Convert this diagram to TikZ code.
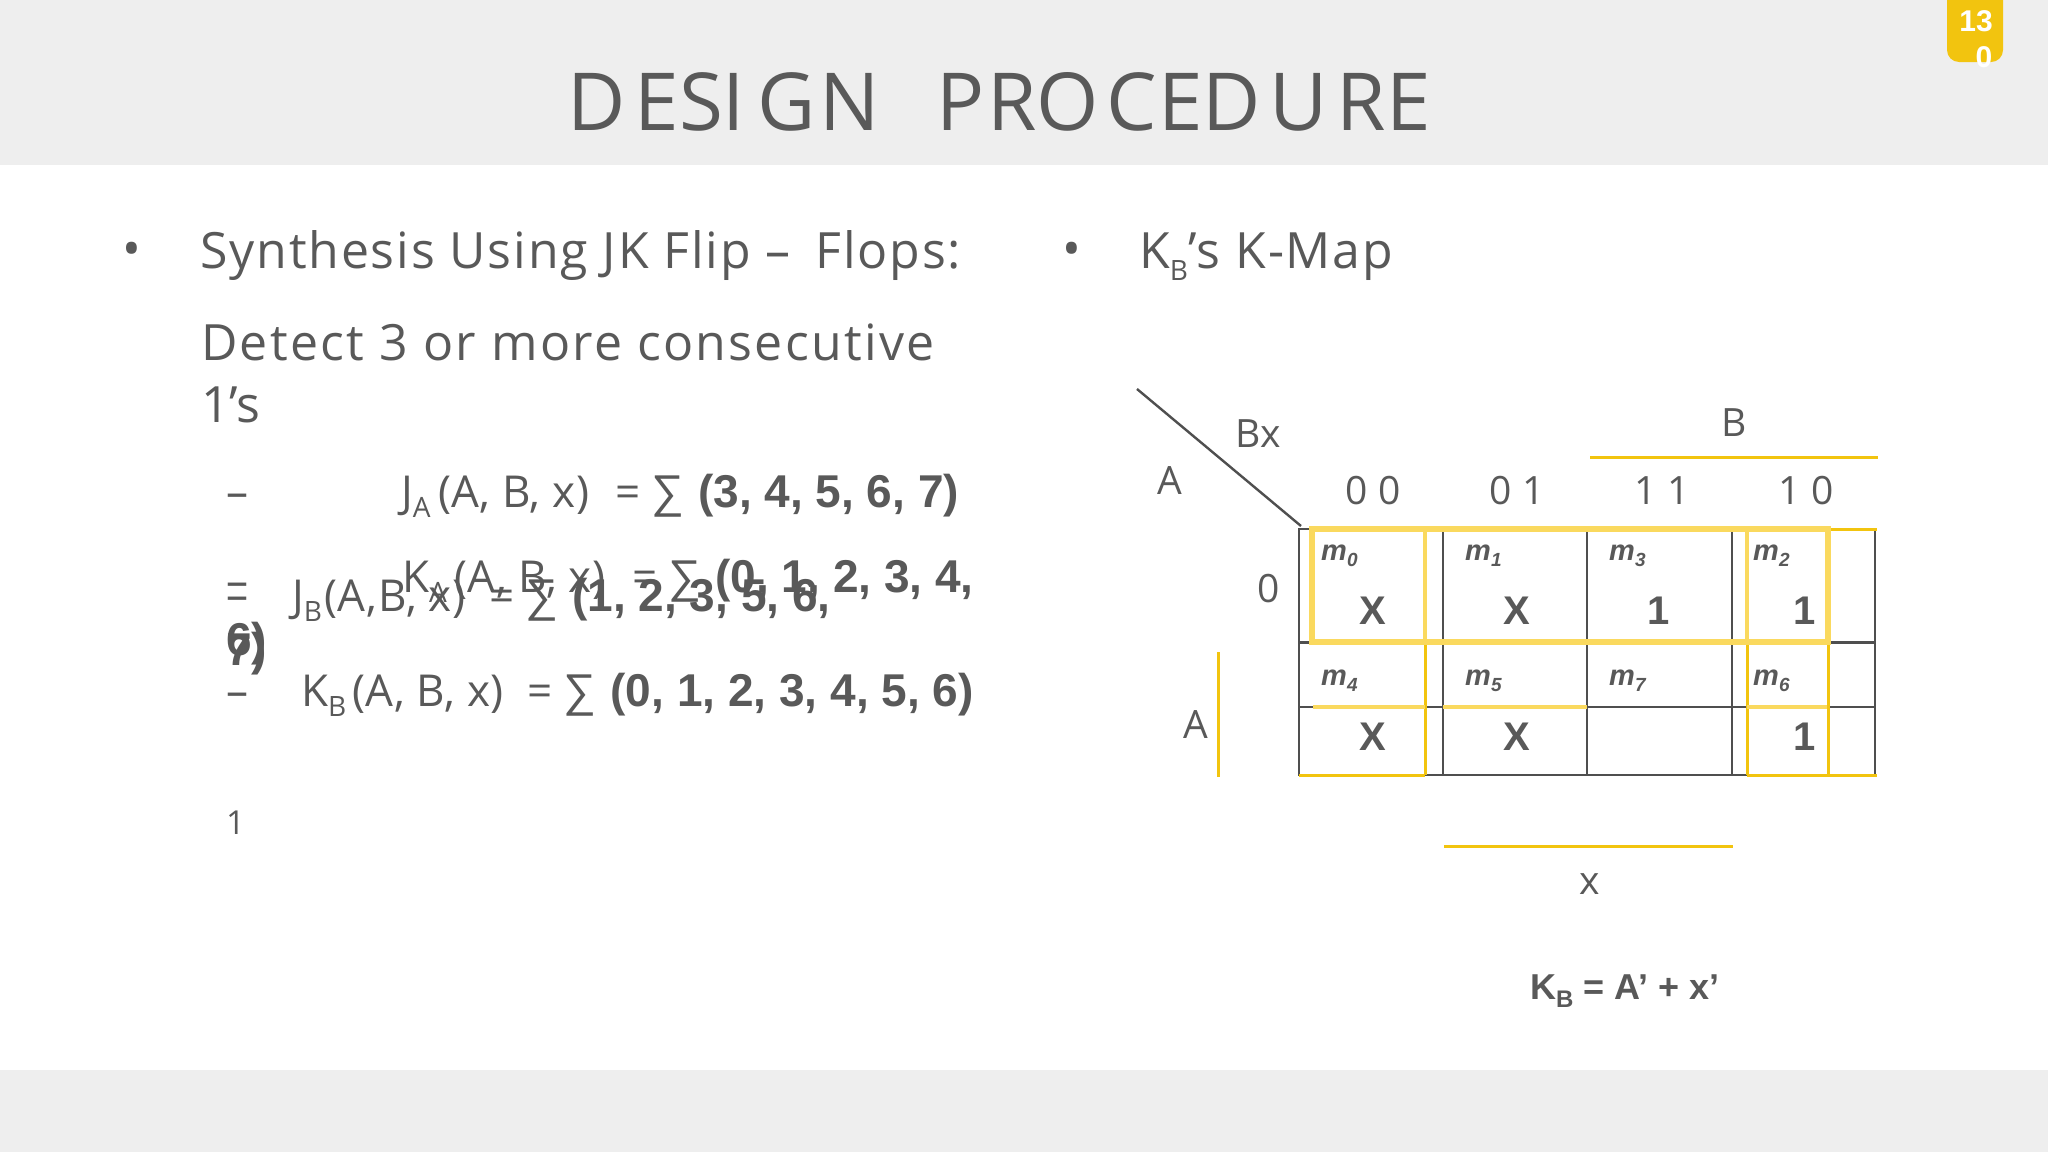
\documentclass[tikz,border=0pt]{standalone}
\usepackage{fontspec}
\setmainfont{Open Sans}
\newfontfamily\arl{Liberation Sans}
\newfontfamily\spcf{Open Sans}[LetterSpace=4.5]
\newfontfamily\spcs{Open Sans}[LetterSpace=3.65]
\newfontfamily\spce{Open Sans}[LetterSpace=1.2]
\definecolor{ink}{HTML}{595959}
\definecolor{band}{HTML}{EEEEEE}
\definecolor{ydark}{HTML}{F2C40F}
\definecolor{ylight}{HTML}{FAD95E}
\definecolor{gridc}{HTML}{4F4F4F}
\newcommand{\myfs}[1]{\fontsize{#1}{#1}\selectfont}
\newcommand{\lowsub}[1]{\raisebox{-.24em}{\myfs{28}#1}}
\newcommand{\mybd}[1]{{\arl\bfseries\myfs{46}#1}}
\newcommand{\mysum}{{\arl\myfs{46}∑}}
\newcommand{\eqsum}{\kern 24pt=\kern 11pt\mysum\kern 14pt}
\newcommand{\tlet}[2]{\makebox[#1pt][l]{#2}}
\tikzset{
 txt/.style={anchor=base west,inner sep=0pt,text=ink,font=\myfs{50}},
 eq/.style={txt,font=\spce\myfs{44}},
 lab/.style={anchor=center,inner sep=0pt,text=ink,font=\myfs{39}},
 mini/.style={anchor=base west,inner sep=0pt,text=ink,font=\arl\bfseries\itshape\myfs{29}},
 val/.style={anchor=center,inner sep=0pt,text=ink,font=\arl\bfseries\myfs{40}},
 gl/.style={draw=gridc,line width=2.4pt},
 yt/.style={draw=ydark,line width=3pt},
 yw/.style={draw=ylight,line width=5.5pt},
}
\begin{document}
\begin{tikzpicture}[x=1pt,y=-1pt]
\useasboundingbox (0,0) rectangle (2048,1152);
\fill[white] (0,0) rectangle (2048,1152);
\fill[band] (0,0) rectangle (2048,165);
\fill[band] (0,1070) rectangle (2048,1152);
\fill[ydark] (1947,0) -- (2003,0) -- (2003,50) arc (0:90:12) -- (1959,62) arc (90:180:12) -- cycle;
\node[anchor=center,inner sep=0pt,text=white,font=\arl\bfseries\myfs{30}] (pga) at (1976,21) {13};
\node[anchor=center,inner sep=0pt,text=white,font=\arl\bfseries\myfs{30}] (pgb) at (1984,57) {0};
\node[txt,font=\myfs{80}] (title) at (567,130) {\tlet{67}{D}\tlet{45}{E}\tlet{43}{S}\tlet{35}{I}\tlet{62}{G}\tlet{117}{N}\tlet{51}{P}\tlet{49}{R}\tlet{70}{O}\tlet{52}{C}\tlet{44}{E}\tlet{67}{D}\tlet{67}{U}\tlet{50}{R}E};

\node[txt] (b1) at (122,266) {•};
\node[txt,font=\spcs\myfs{50}] (syn) at (200,268) {Synthesis Using JK Flip –\kern 25pt Flops:};
\node[txt,font=\spcf\myfs{50}] (det) at (201,360) {Detect 3 or more consecutive};
\node[txt] (ones) at (201,422) {1’s};

\node[eq] (d1) at (226,507) {–};
\node[eq] (ja) at (401,507) {J\lowsub{A}\,(A, B, x)\kern 2pt\eqsum\mybd{(3, 4, 5, 6, 7)}};
\node[eq] (d2) at (226,596) {–};
\node[eq] (ka) at (402,592) {K\lowsub{A}\,(A, B, x)\kern 3pt\eqsum\mybd{(0, 1, 2, 3, 4,}};
\node[eq] (d3) at (226,610) {–};
\node[eq] (jb) at (292,611) {J\lowsub{B}\kern 2pt(A,\kern 2pt B, x)\eqsum\mybd{(1, 2, 3, 5, 6,}};
\node[eq] (w1) at (226,655) {\mybd{6)}};
\node[eq] (w2) at (226,665) {\mybd{7)}};
\node[eq] (d4) at (226,706) {–};
\node[eq] (kb) at (301,706) {K\lowsub{B}\kern 6pt(A, B, x)\eqsum\mybd{(0, 1, 2, 3, 4, 5, 6)}};
\node[txt,font=\myfs{33}] (one) at (226,834) {1};

\node[txt] (b2) at (1062,266) {•};
\node[txt,font=\spcs\myfs{50}] (kmt) at (1139,268) {K\lowsub{B}’s K-Map};

% K-map grid
\draw[gl] (1299,529) rectangle (1875,775);
\foreach \x in {1443,1587,1732} \draw[gl] (\x,529) -- (\x,775);
\draw[gl] (1299,642.5) -- (1875,642.5);
\draw[gl] (1299,707) -- (1875,707);
\coordinate (dgA) at (1137,389);
\coordinate (dgB) at (1301,526);
\draw[draw=gridc,line width=2.4pt] (dgA) -- (dgB);

% yellow marks
\draw[yt] (1299,775) -- (1425,775);
\draw[yt] (1747,775) -- (1877,775);
\draw[yt] (1829,529) -- (1877,529);
\draw[yt] (1425,642) -- (1425,775);
\draw[yt] (1747,642) -- (1747,775);
\draw[yt] (1828,642) -- (1828,775);
\draw[yw] (1312,529) -- (1828,529) -- (1828,642) -- (1312,642) -- cycle;
\draw[draw=ylight,line width=4pt] (1425,529) -- (1425,642);
\draw[draw=ylight,line width=4pt] (1747,529) -- (1747,642);
\draw[yw,line width=4.5pt] (1313,707) -- (1425,707);
\draw[yw,line width=4.5pt] (1443,707) -- (1587,707);
\draw[yw,line width=4.5pt] (1747,707) -- (1827,707);
\draw[yt] (1590,457) -- (1878,457);
\draw[yt] (1218,652) -- (1218,777);
\draw[yt] (1444,846) -- (1733,846);

% K-map labels
\node[lab] (lbx) at (1258,434) {Bx};
\node[lab] (la) at (1170,481) {A};
\node[lab] (lb) at (1734,423) {B};
\node[lab] (c00) at (1373,491) {0 0};
\node[lab] (c01) at (1517,491) {0 1};
\node[lab] (c11) at (1662,491) {1 1};
\node[lab] (c10) at (1806,491) {1 0};
\node[lab] (r0) at (1269,589) {0};
\node[lab] (ra) at (1196,725) {A};
\node[lab] (lx) at (1590,884) {x};

\node[mini] (m0) at (1321,560) {m\lowsub{\myfs{19}0}};
\node[mini] (m1) at (1465,560) {m\lowsub{\myfs{19}1}};
\node[mini] (m3) at (1609,560) {m\lowsub{\myfs{19}3}};
\node[mini] (m2) at (1753,560) {m\lowsub{\myfs{19}2}};
\node[mini] (m4) at (1321,685) {m\lowsub{\myfs{19}4}};
\node[mini] (m5) at (1465,685) {m\lowsub{\myfs{19}5}};
\node[mini] (m7) at (1609,685) {m\lowsub{\myfs{19}7}};
\node[mini] (m6) at (1753,685) {m\lowsub{\myfs{19}6}};
\node[val] (v0) at (1373,611) {X};
\node[val] (v1) at (1517,611) {X};
\node[val] (v3) at (1659,611) {1};
\node[val] (v2) at (1805,611) {1};
\node[val] (v4) at (1373,737) {X};
\node[val] (v5) at (1517,737) {X};
\node[val] (v6) at (1805,737) {1};

\node[anchor=base west,inner sep=0pt,text=ink,font=\arl\bfseries\myfs{36}] (res) at (1530,999) {K\lowsub{\myfs{24}B} = A’ + x’};
\end{tikzpicture}
\end{document}
